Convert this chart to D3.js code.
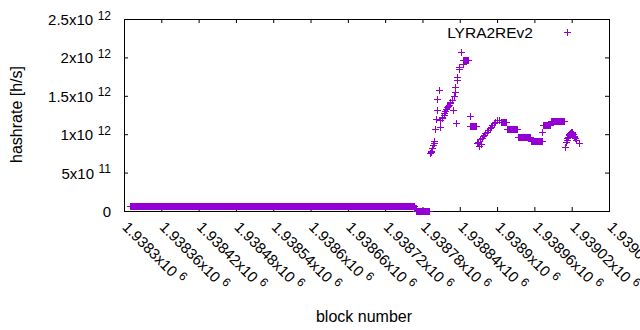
<!doctype html>
<html>
<head>
<meta charset="utf-8">
<script src="https://d3js.org/d3.v7.min.js"></script>
<style>
  body { margin: 0; background: #fff; }
  svg { font-family: "Liberation Sans", Arial, sans-serif; }
  .tick line, .frame { stroke: #000; stroke-width: 1; }
  .pt { stroke: #9400d3; stroke-width: 1; fill: none; }
</style>
</head>
<body>
<svg id="chart" width="640" height="330"></svg>
<script>
// runs of equal hashrate: [first block, last block, hashrate]
var runs = [
  [1938310, 1938766, 6.0e10],
  [1938767, 1938769, 3.5e10],
  [1938770, 1938790, 0],
  [1938846, 1938853, 1.962e12],
  [1938857, 1938866, 1.103e12],
  [1938906, 1938915, 1.159e12],
  [1938916, 1938932, 1.064e12],
  [1938933, 1938953, 0.960e12],
  [1938954, 1938972, 0.911e12],
  [1938974, 1938985, 1.116e12],
  [1938986, 1939007, 1.176e12]
];

// single blocks: [block, hashrate]
var singles = [
  [1938792, 0.759e12], [1938793, 0.772e12], [1938794, 0.785e12], [1938795, 0.816e12],
  [1938796, 0.824e12], [1938797, 0.859e12], [1938798, 0.890e12], [1938799, 0.915e12],
  [1938800, 1.064e12], [1938802, 1.194e12], [1938803, 1.315e12], [1938804, 1.454e12],
  [1938807, 1.576e12], [1938808, 1.098e12], [1938809, 1.185e12], [1938811, 1.207e12],
  [1938812, 1.230e12], [1938814, 1.250e12], [1938815, 1.280e12], [1938816, 1.306e12],
  [1938818, 1.330e12], [1938819, 1.350e12], [1938821, 1.370e12], [1938822, 1.380e12],
  [1938824, 1.410e12], [1938825, 1.420e12], [1938827, 1.445e12], [1938829, 1.315e12],
  [1938830, 1.497e12], [1938832, 1.553e12], [1938833, 1.618e12], [1938834, 1.142e12],
  [1938835, 1.745e12], [1938836, 1.706e12], [1938838, 1.845e12], [1938839, 1.879e12],
  [1938842, 2.066e12], [1938845, 1.914e12], [1938856, 1.241e12],
  [1938868, 0.881e12], [1938870, 0.902e12], [1938871, 0.846e12], [1938873, 0.934e12],
  [1938874, 0.872e12], [1938875, 0.954e12], [1938877, 0.977e12], [1938879, 0.990e12],
  [1938881, 1.016e12], [1938883, 1.033e12], [1938885, 1.055e12], [1938888, 1.077e12],
  [1938890, 1.100e12], [1938892, 1.120e12], [1938895, 1.146e12], [1938897, 1.163e12],
  [1938900, 1.180e12], [1938903, 1.190e12],
  [1938973, 1.033e12],
  [1939010, 0.837e12], [1939011, 0.900e12], [1939012, 0.930e12], [1939013, 0.950e12],
  [1939014, 0.970e12], [1939015, 0.990e12], [1939016, 1.000e12], [1939017, 1.010e12],
  [1939018, 1.020e12], [1939019, 1.025e12], [1939020, 1.025e12], [1939021, 1.010e12],
  [1939022, 1.000e12], [1939023, 0.980e12], [1939024, 0.960e12], [1939025, 0.950e12],
  [1939027, 0.920e12], [1939031, 0.881e12]
];

var xTicks = [1938300, 1938360, 1938420, 1938480, 1938540, 1938600, 1938660,
              1938720, 1938780, 1938840, 1938900, 1938960, 1939020, 1939080];
var xTickLabels = ["1.9383", "1.93836", "1.93842", "1.93848", "1.93854", "1.9386", "1.93866",
                   "1.93872", "1.93878", "1.93884", "1.9389", "1.93896", "1.93902", "1.93908"];
var xTickExp = "6";

var yTicks = [0, 5e11, 1e12, 1.5e12, 2e12, 2.5e12];
var yTickLabels = ["0", "5", "1", "1.5", "2", "2.5"];
var yTickExp = ["", "11", "12", "12", "12", "12"];

var seriesName = "LYRA2REv2";

var svg = d3.select("#chart");
var plotL = 124, plotR = 609, plotT = 19, plotB = 211;

var x = d3.scaleLinear().domain([1938300, 1939080]).range([plotL, plotR]);
var y = d3.scaleLinear().domain([0, 2.5e12]).range([plotB, plotT]);

// mantissa "x10" plus raised exponent
function expLabel(text, main, sup) {
  text.text(null);
  text.append("tspan").text(sup ? main + "x10" : main);
  if (sup) {
    text.append("tspan").attr("dx", 4.5).attr("dy", -5.5)
      .attr("font-size", 12).text(sup);
  }
}

// bottom axis with rotated labels
var gx = svg.append("g").attr("transform", "translate(0," + plotB + ")")
  .call(d3.axisBottom(x).tickValues(xTicks).tickSize(-4)
    .tickFormat(function(d, i) { return xTickLabels[i]; }));
gx.select(".domain").remove();
gx.selectAll(".tick text")
  .attr("x", null).attr("y", null).attr("dy", null)
  .attr("fill", "#000").attr("font-size", 15)
  .attr("text-anchor", "start")
  .attr("transform", "translate(-3,17) rotate(45)")
  .each(function(d, i) { expLabel(d3.select(this), xTickLabels[i], xTickExp); });

// top mirror ticks
var gt = svg.append("g").attr("transform", "translate(0," + plotT + ")")
  .call(d3.axisTop(x).tickValues(xTicks).tickSize(-4).tickFormat(""));
gt.select(".domain").remove();

// left axis
var gy = svg.append("g").attr("transform", "translate(" + plotL + ",0)")
  .call(d3.axisLeft(y).tickValues(yTicks).tickSize(-4).tickPadding(13)
    .tickFormat(function(d, i) { return yTickLabels[i]; }));
gy.select(".domain").remove();
gy.selectAll(".tick text")
  .attr("dy", "0.37em").attr("fill", "#000").attr("font-size", 15)
  .each(function(d, i) { expLabel(d3.select(this), yTickLabels[i], yTickExp[i]); });

// right mirror ticks
var gr = svg.append("g").attr("transform", "translate(" + plotR + ",0)")
  .call(d3.axisRight(y).tickValues(yTicks).tickSize(-4).tickFormat(""));
gr.select(".domain").remove();

svg.append("rect").attr("class", "frame")
  .attr("x", plotL + 0.5).attr("y", plotT + 0.5)
  .attr("width", plotR - plotL).attr("height", plotB - plotT)
  .attr("fill", "none");

// points
var points = [];
runs.forEach(function(r) {
  for (var b = r[0]; b <= r[1]; b++) points.push([b, r[2]]);
});
singles.forEach(function(p) { points.push(p); });

var plus = "M-3.5,0H3.5M0,-3.5V3.5";
svg.append("g").selectAll("path")
  .data(points)
  .enter()
  .append("path")
  .attr("class", "pt")
  .attr("d", plus)
  .attr("transform", function(d) {
    return "translate(" + (Math.round(x(d[0])) + 0.5) + "," + (Math.round(y(d[1])) + 0.5) + ")";
  });

// legend
svg.append("text").attr("x", 533).attr("y", 37.5)
  .attr("text-anchor", "end").attr("font-size", 15.5).text(seriesName);
svg.append("path").attr("class", "pt").attr("d", plus)
  .attr("transform", "translate(567.5,32.5)");

// axis titles
svg.append("text").attr("x", 364).attr("y", 321.5)
  .attr("text-anchor", "middle").attr("font-size", 16).text("block number");
svg.append("text").attr("transform", "translate(21.5,114.5) rotate(-90)")
  .attr("text-anchor", "middle").attr("font-size", 16).text("hashrate [h/s]");
</script>
</body>
</html>
